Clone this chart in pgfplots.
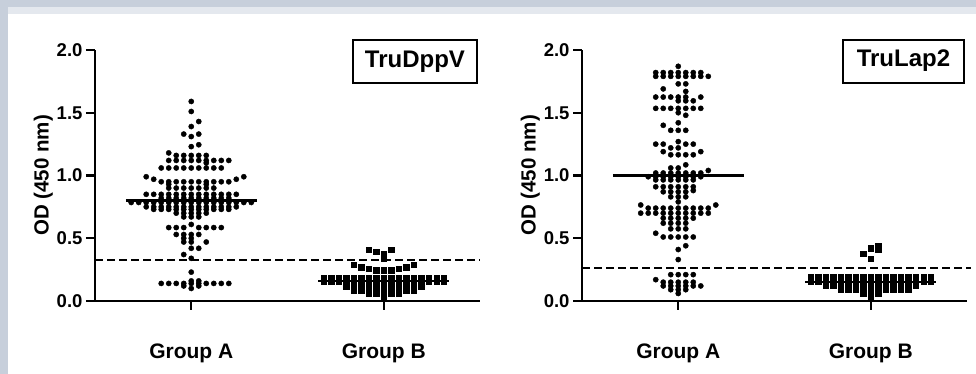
\documentclass[border=0pt]{standalone}
\usepackage{fontspec}
\setmainfont{Liberation Sans}
\usepackage{pgfplots}
\usepackage{pgfplotstable}
\pgfplotsset{compat=1.18}
\definecolor{bgdark}{RGB}{199,207,219}
\definecolor{bglight}{RGB}{228,232,238}

\pgfplotstableread[row sep=\\]{
k v\\
0 1.59\\ 0 1.51\\ 1 1.43\\ 0 1.39\\ -1 1.33\\ 1 1.33\\ 0 1.31\\ 1 1.245\\ 0 1.23\\
-3 1.18\\ -2 1.16\\ -1 1.16\\ 0 1.16\\ 1 1.16\\ 2 1.16\\
-3 1.12\\ -2 1.12\\ -1 1.12\\ 0 1.12\\ 1 1.12\\ 2 1.12\\ 3 1.12\\ 4 1.12\\ 5 1.12\\ 2 1.10\\
-4 1.06\\ -3 1.06\\ -2 1.06\\ -1 1.06\\ 0 1.06\\ 1 1.06\\ 2 1.06\\ 3 1.06\\ 4 1.06\\
-6 0.99\\ 7 0.99\\ -5 0.97\\ 6 0.97\\
-4 0.95\\ -3 0.95\\ -2 0.95\\ -1 0.95\\ 0 0.95\\ 1 0.95\\ 2 0.95\\ 3 0.95\\ 4 0.95\\ 5 0.95\\
-3 0.93\\ 2 0.93\\
-3 0.90\\ -2 0.90\\ -1 0.90\\ 0 0.90\\ 1 0.90\\ 2 0.90\\ 3 0.90\\
-6 0.85\\ -5 0.85\\ -4 0.85\\ -3 0.85\\ -2 0.85\\ -1 0.85\\ 0 0.85\\ 1 0.85\\ 2 0.85\\ 3 0.85\\ 4 0.85\\ 5 0.85\\ 6 0.85\\
-4 0.82\\ -3 0.82\\ -2 0.82\\ -1 0.82\\ 0 0.82\\ 1 0.82\\ 2 0.82\\ 3 0.82\\ 4 0.82\\ 5 0.82\\
-8 0.785\\ -7 0.785\\ -6 0.785\\ -5 0.785\\ -4 0.785\\ -3 0.785\\ -2 0.785\\ -1 0.785\\ 0 0.785\\ 1 0.785\\ 2 0.785\\ 3 0.785\\ 4 0.785\\ 5 0.785\\ 6 0.785\\ 7 0.785\\ 8 0.785\\
-6 0.75\\ -5 0.75\\ -4 0.75\\ -3 0.75\\ -2 0.75\\ -1 0.75\\ 0 0.75\\ 1 0.75\\ 2 0.75\\ 3 0.75\\ 4 0.75\\ 5 0.75\\ 6 0.75\\
-5 0.73\\ -4 0.73\\ -3 0.73\\ -2 0.73\\ -1 0.73\\ 0 0.73\\ 1 0.73\\ 2 0.73\\ 3 0.73\\ 4 0.73\\ 5 0.73\\
-2 0.70\\ -1 0.70\\ 0 0.70\\ 1 0.70\\ 2 0.70\\ -1 0.67\\ 0 0.67\\ 1 0.67\\ 0 0.61\\
-3 0.585\\ -2 0.585\\ -1 0.585\\ 1 0.585\\ 2 0.585\\ 3 0.585\\ 4 0.585\\
-2 0.53\\ -1 0.53\\ 0 0.53\\ 1 0.53\\ -1 0.50\\ 0 0.50\\
-1 0.47\\ 0 0.47\\ 2 0.47\\ 0 0.42\\ 1 0.42\\ -1 0.37\\ 0 0.34\\ 0 0.23\\
0 0.16\\ 1 0.16\\
-4 0.14\\ -3 0.14\\ -2 0.14\\ -1 0.14\\ 0 0.14\\ 1 0.14\\ 2 0.14\\ 3 0.14\\ 4 0.14\\ 5 0.14\\
-1 0.12\\ 1 0.12\\ 0 0.10\\
}\LA

\pgfplotstableread[row sep=\\]{
k v\\
-2 0.41\\ 1 0.41\\ -1 0.39\\ 0 0.38\\ 0 0.335\\
-4 0.29\\ 4 0.29\\ -3 0.27\\ 3 0.27\\ -2 0.255\\ 2 0.255\\ -1 0.245\\ 0 0.245\\ 1 0.245\\
-8 0.185\\ -7 0.185\\ -6 0.185\\ -5 0.185\\ -4 0.185\\ -3 0.185\\ -2 0.185\\ -1 0.185\\ 0 0.185\\ 1 0.185\\ 2 0.185\\ 3 0.185\\ 4 0.185\\ 5 0.185\\ 6 0.185\\ 7 0.185\\ 8 0.185\\
-8 0.155\\ -7 0.155\\ -6 0.155\\ -5 0.155\\ -4 0.155\\ -3 0.155\\ -2 0.155\\ -1 0.155\\ 0 0.155\\ 1 0.155\\ 2 0.155\\ 3 0.155\\ 4 0.155\\ 5 0.155\\ 6 0.155\\ 7 0.155\\ 8 0.155\\
-5 0.115\\ -4 0.115\\ -3 0.115\\ -2 0.115\\ -1 0.115\\ 0 0.115\\ 1 0.115\\ 2 0.115\\ 3 0.115\\ 4 0.115\\ 5 0.115\\
-4 0.085\\ -3 0.085\\ -2 0.085\\ -1 0.085\\ 0 0.085\\ 1 0.085\\ 2 0.085\\ 3 0.085\\ 4 0.085\\
-2 0.06\\ -1 0.06\\ 1 0.06\\ 2 0.06\\ 0 0.03\\
}\LB

\pgfplotstableread[row sep=\\]{
k v\\
0 1.87\\
-3 1.82\\ -2 1.82\\ -1 1.82\\ 0 1.82\\ 1 1.82\\ 2 1.82\\ 3 1.82\\
-3 1.79\\ -2 1.79\\ -1 1.79\\ 0 1.79\\ 1 1.79\\ 2 1.79\\ 3 1.79\\ 4 1.79\\
0 1.73\\ 1 1.73\\ -2 1.69\\ 1 1.67\\
-3 1.625\\ -2 1.625\\ -1 1.625\\ 0 1.625\\ 1 1.625\\ 3 1.625\\
0 1.595\\ 1 1.595\\ 2 1.595\\
-3 1.535\\ -2 1.535\\ -1 1.535\\ 0 1.535\\ 1 1.535\\ 2 1.535\\ 3 1.535\\
0 1.50\\ 1 1.48\\ 0 1.42\\ -2 1.40\\ -1 1.36\\ 0 1.36\\ 1 1.36\\
0 1.27\\ -3 1.25\\ -2 1.25\\ 1 1.25\\ 2 1.25\\ -1 1.22\\ 0 1.22\\
-2 1.19\\ 3 1.19\\ -1 1.165\\ 0 1.165\\ 1 1.165\\ 2 1.165\\
1 1.085\\ -1 1.06\\ 0 1.06\\ 4 1.04\\
-3 1.02\\ -2 1.02\\ -1 1.02\\ 0 1.02\\ 1 1.02\\ 2 1.02\\ 3 1.02\\
-4 0.99\\ -3 0.99\\ -2 0.99\\ -1 0.99\\ 0 0.99\\ 1 0.99\\ 2 0.99\\ 3 0.99\\
-3 0.965\\ -2 0.965\\ -1 0.965\\ 0 0.965\\ 1 0.965\\ 2 0.965\\
-3 0.91\\ -2 0.91\\ -1 0.91\\ 0 0.91\\ 1 0.91\\ 2 0.91\\
2 0.88\\ -2 0.87\\ -1 0.87\\ 0 0.87\\ 1 0.87\\
-1 0.83\\ 0 0.83\\ 1 0.83\\ 0 0.79\\ -5 0.765\\ 5 0.765\\
-4 0.74\\ -3 0.74\\ -2 0.74\\ -1 0.74\\ 0 0.74\\ 1 0.74\\ 2 0.74\\ 3 0.74\\ 4 0.74\\
-5 0.70\\ -4 0.70\\ -3 0.70\\ -2 0.70\\ -1 0.70\\ 0 0.70\\ 1 0.70\\ 2 0.70\\ 3 0.70\\ 4 0.70\\
-2 0.66\\ -1 0.66\\ 0 0.66\\ 1 0.66\\ 2 0.66\\
-2 0.62\\ -1 0.62\\ 0 0.62\\ 1 0.62\\
-1 0.575\\ 0 0.575\\ 1 0.575\\ -3 0.54\\
-2 0.51\\ -1 0.51\\ 0 0.51\\ 1 0.51\\ 2 0.51\\
1 0.44\\ 0 0.41\\ 0 0.33\\
-1 0.21\\ 0 0.21\\ 1 0.21\\ 2 0.21\\ -3 0.17\\
-2 0.15\\ -1 0.15\\ 0 0.15\\ 1 0.15\\ 2 0.15\\
-2 0.12\\ -1 0.12\\ 0 0.12\\ 1 0.12\\ 2 0.12\\ 3 0.12\\
-1 0.09\\ 0 0.09\\ 1 0.09\\ 0 0.06\\
}\RA

\pgfplotstableread[row sep=\\]{
k v\\
-1 0.38\\ 0 0.42\\ 1 0.44\\ 1 0.41\\ 0 0.335\\
-8 0.19\\ -7 0.19\\ -6 0.19\\ -5 0.19\\ -4 0.19\\ -3 0.19\\ -2 0.19\\ -1 0.19\\ 0 0.19\\ 1 0.19\\ 2 0.19\\ 3 0.19\\ 4 0.19\\ 5 0.19\\ 6 0.19\\ 7 0.19\\ 8 0.19\\
-8 0.155\\ -7 0.155\\ -6 0.155\\ -5 0.155\\ -4 0.155\\ -3 0.155\\ -2 0.155\\ -1 0.155\\ 0 0.155\\ 1 0.155\\ 2 0.155\\ 3 0.155\\ 4 0.155\\ 5 0.155\\ 6 0.155\\ 7 0.155\\ 8 0.155\\
-6 0.12\\ -5 0.12\\ -4 0.12\\ -3 0.12\\ -2 0.12\\ -1 0.12\\ 0 0.12\\ 1 0.12\\ 2 0.12\\ 3 0.12\\ 4 0.12\\ 5 0.12\\ 6 0.12\\
-4 0.09\\ -3 0.09\\ -2 0.09\\ -1 0.09\\ 0 0.09\\ 1 0.09\\ 2 0.09\\ 3 0.09\\ 4 0.09\\ 5 0.09\\
-1 0.06\\ 0 0.06\\ 1 0.06\\ 0 0.03\\
}\RB

\pgfplotsset{
  dotpanel/.style={
    scale only axis, width=385pt, height=251pt, anchor=south west,
    xmin=0.5, xmax=2.5, ymin=0, ymax=2,
    axis x line*=bottom, axis y line*=left,
    axis line style={line width=2.5pt, -},
    xtick={1,2}, xticklabels={Group A, Group B},
    ytick={0,0.5,1,1.5,2}, yticklabels={0.0,0.5,1.0,1.5,2.0},
    tick align=outside, major tick length=9pt,
    every tick/.style={black, line width=2.2pt},
    yticklabel style={font=\bfseries\fontsize{18.5}{20}\selectfont},
    xticklabel style={font=\bfseries\fontsize{21}{23}\selectfont, yshift=-30pt},
    ylabel={OD (450 nm)},
    ylabel style={font=\bfseries\fontsize{20.5}{22}\selectfont, at={(axis description cs:-0.134,0.5)}, anchor=center},
    clip=false,
  },
  dotsA/.style={only marks, mark=*, mark size=2.6pt, black},
  dotsB/.style={only marks, mark=square*, mark size=2.6pt, black},
}

\begin{document}
\begin{tikzpicture}[x=1pt,y=1pt]
\fill[bgdark] (0,0) rectangle (976,374);
\fill[bglight] (8,360) rectangle (976,367);
\fill[white] (8,0) rectangle (976,360);
\useasboundingbox (0,0) rectangle (976,374);

\begin{axis}[dotpanel, at={(95pt,73pt)}]
\addplot[black, line width=2.3pt, dash pattern=on 8pt off 4pt] coordinates {(0.5,0.327) (2.5,0.327)};
\addplot[dotsA] table[x expr=1+0.039*\thisrow{k}, y=v] {\LA};
\addplot[dotsB] table[x expr=2+0.039*\thisrow{k}, y=v] {\LB};
\addplot[black, line width=2.3pt] coordinates {(0.66,0.80) (1.34,0.80)};
\addplot[black, line width=2.3pt] coordinates {(1.66,0.16) (2.34,0.16)};
\node[draw, line width=2pt, minimum width=124pt, minimum height=43pt, inner sep=0pt,
      font=\bfseries\fontsize{24}{26}\selectfont] at (rel axis cs:0.831,0.954) {TruDppV};
\end{axis}

\begin{axis}[dotpanel, at={(582pt,73pt)}]
\addplot[black, line width=2.3pt, dash pattern=on 8pt off 4pt] coordinates {(0.5,0.265) (2.52,0.265)};
\addplot[dotsA] table[x expr=1+0.039*\thisrow{k}, y=v] {\RA};
\addplot[dotsB] table[x expr=2+0.039*\thisrow{k}, y=v] {\RB};
\addplot[black, line width=2.3pt] coordinates {(0.66,1.0) (1.34,1.0)};
\addplot[black, line width=2.3pt] coordinates {(1.66,0.15) (2.34,0.15)};
\node[draw, line width=2pt, minimum width=121pt, minimum height=43pt, inner sep=0pt,
      font=\bfseries\fontsize{24}{26}\selectfont] at (rel axis cs:0.835,0.956) {TruLap2};
\end{axis}
\end{tikzpicture}
\end{document}
